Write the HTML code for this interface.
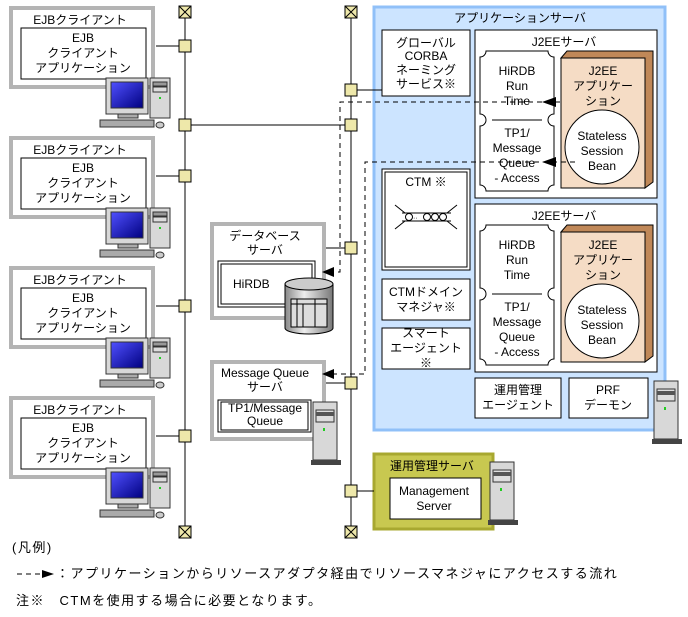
<!DOCTYPE html>
<html><head><meta charset="utf-8"><style>
body{margin:0;background:#fff}
svg{display:block}
text{font-family:"Liberation Sans","Noto Sans CJK JP",sans-serif;font-size:12px;fill:#000}
.m{text-anchor:middle}
.lg{font-size:13px;letter-spacing:1.5px}
</style></head><body>
<svg width="688" height="617" viewBox="0 0 688 617" xmlns="http://www.w3.org/2000/svg">
<defs>
<linearGradient id="scr" x1="0" y1="0" x2="1" y2="1"><stop offset="0" stop-color="#5050ff"/><stop offset="1" stop-color="#000080"/></linearGradient>
<linearGradient id="cyl" x1="0" y1="0" x2="1" y2="0"><stop offset="0" stop-color="#888"/><stop offset="0.4" stop-color="#eee"/><stop offset="1" stop-color="#777"/></linearGradient>
<g id="pc">
<rect x="0" y="0" width="42" height="36" fill="#d8d8d8" stroke="#333"/>
<rect x="5" y="4" width="32" height="26" fill="url(#scr)" stroke="#333"/>
<rect x="12" y="36" width="20" height="4" fill="#aaa" stroke="#333"/>
<rect x="44" y="0" width="20" height="40" fill="#d8d8d8" stroke="#333"/>
<rect x="47" y="4" width="14" height="4" fill="#999" stroke="#333"/>
<rect x="47" y="9" width="14" height="5" fill="#ddd" stroke="#333"/>
<rect x="53" y="19" width="2" height="2" fill="#2c2"/>
<rect x="-6" y="42" width="54" height="7" fill="#aaa" stroke="#333"/>
<ellipse cx="54" cy="47" rx="4" ry="3" fill="#ccc" stroke="#333"/>
</g>
<g id="tw">
<rect x="2" y="0" width="24" height="58" fill="#d8d8d8" stroke="#333"/>
<rect x="5" y="8" width="18" height="12" fill="#ddd" stroke="#333"/>
<rect x="5" y="10" width="18" height="4" fill="#555"/>
<rect x="12" y="26" width="2" height="3" fill="#2c2"/>
<rect x="0" y="58" width="30" height="5" fill="#444"/>
</g>
<g id="term"><rect x="-6" y="-6" width="12" height="12" fill="#eee8aa" stroke="#000"/><path d="M-6 -6L6 6M6 -6L-6 6" stroke="#000"/></g>
<g id="sq"><rect x="-6" y="-6" width="12" height="12" fill="#eee8aa" stroke="#000"/></g>
</defs>

<line x1="185" y1="12" x2="185" y2="532" stroke="#000"/>
<line x1="351" y1="12" x2="351" y2="532" stroke="#000"/>
<use href="#term" x="185" y="12"/><use href="#term" x="185" y="532"/>
<use href="#term" x="351" y="12"/><use href="#term" x="351" y="532"/>

<g id="cl">
<rect x="11" y="8" width="142" height="79" fill="#fff" stroke="#b4b4b4" stroke-width="4"/>
<text class="m" x="80" y="24">EJBクライアント</text>
<rect x="21" y="28" width="125" height="51" fill="#fff" stroke="#000"/>
<text class="m" x="83" y="42">EJB</text>
<text class="m" x="83" y="57">クライアント</text>
<text class="m" x="83" y="72">アプリケーション</text>
<line x1="156" y1="46" x2="185" y2="46" stroke="#000"/>
<use href="#sq" x="185" y="46"/>
<use href="#pc" x="106" y="78"/>
</g>
<use href="#cl" y="130"/><use href="#cl" y="260"/><use href="#cl" y="390"/>

<line x1="185" y1="125" x2="351" y2="125" stroke="#000"/>
<use href="#sq" x="185" y="125"/>

<rect x="374" y="7" width="291" height="423" fill="#cce4ff" stroke="#90c0f8" stroke-width="3"/>
<text class="m" x="520" y="22">アプリケーションサーバ</text>
<line x1="351" y1="90" x2="382" y2="90" stroke="#000"/>
<use href="#sq" x="351" y="90"/><use href="#sq" x="351" y="125"/>

<rect x="382" y="30" width="88" height="66" fill="#fff" stroke="#000"/>
<text class="m" x="426" y="47">グローバル</text>
<text class="m" x="426" y="60">CORBA</text>
<text class="m" x="426" y="74">ネーミング</text>
<text class="m" x="426" y="88">サービス※</text>

<rect x="382" y="169" width="88" height="101" fill="#fff" stroke="#000"/>
<rect x="385" y="172" width="82" height="95" fill="none" stroke="#000"/>
<text class="m" x="426" y="186">CTM ※</text>
<path d="M395 205L405 213M457 205L447 213M395 229L405 221M457 229L447 221M402 213H451M402 221H451" stroke="#000" fill="none"/>
<circle cx="409" cy="217" r="3.5" fill="#fff" stroke="#000"/>
<circle cx="427" cy="217" r="3.5" fill="#fff" stroke="#000"/>
<circle cx="435" cy="217" r="3.5" fill="#fff" stroke="#000"/>
<circle cx="443" cy="217" r="3.5" fill="#fff" stroke="#000"/>
<text x="413" y="220" style="font-size:7px">··</text>

<rect x="382" y="279" width="88" height="41" fill="#fff" stroke="#000"/>
<text class="m" x="426" y="296">CTMドメイン</text>
<text class="m" x="426" y="311">マネジャ※</text>
<rect x="382" y="328" width="88" height="41" fill="#fff" stroke="#000"/>
<text class="m" x="426" y="337">スマート</text>
<text class="m" x="426" y="352">エージェント</text>
<text class="m" x="426" y="367">※</text>

<g id="j2">
<rect x="475" y="30" width="182" height="168" fill="#fff" stroke="#000"/>
<text class="m" x="564" y="46">J2EEサーバ</text>
<path d="M486 51H548A6 6 0 0 0 554 57V114A6 6 0 0 0 554 126V185A6 6 0 0 0 548 191H486A6 6 0 0 0 480 185V126A6 6 0 0 0 480 114V57A6 6 0 0 0 486 51Z" fill="#fff" stroke="#000"/>
<line x1="492" y1="120" x2="542" y2="120" stroke="#000"/>
<text class="m" x="517" y="75">HiRDB</text>
<text class="m" x="517" y="90">Run</text>
<text class="m" x="517" y="105">Time</text>
<text class="m" x="517" y="137">TP1/</text>
<text class="m" x="517" y="152">Message</text>
<text class="m" x="517" y="167">Queue</text>
<text class="m" x="517" y="182">- Access</text>
<path d="M561 58L567 51H653V182L645 188V58Z" fill="#c08858" stroke="#000"/>
<rect x="561" y="58" width="84" height="130" fill="#f5dcc5" stroke="#000"/>
<text class="m" x="603" y="75">J2EE</text>
<text class="m" x="603" y="90">アプリケー</text>
<text class="m" x="603" y="105">ション</text>
<circle cx="602" cy="147" r="37" fill="#fff" stroke="#000"/>
<text class="m" x="602" y="140">Stateless</text>
<text class="m" x="602" y="155">Session</text>
<text class="m" x="602" y="170">Bean</text>
</g>
<use href="#j2" y="174"/>
<rect x="475" y="378" width="86" height="40" fill="#fff" stroke="#000"/>
<text class="m" x="518" y="394">運用管理</text>
<text class="m" x="518" y="409">エージェント</text>
<rect x="569" y="378" width="79" height="40" fill="#fff" stroke="#000"/>
<text class="m" x="608" y="394">PRF</text>
<text class="m" x="608" y="409">デーモン</text>
<use href="#tw" x="652" y="381"/>

<rect x="212" y="224" width="112" height="94" fill="#fff" stroke="#b4b4b4" stroke-width="4"/>
<text class="m" x="265" y="240">データベース</text>
<text class="m" x="265" y="254">サーバ</text>
<line x1="326" y1="248" x2="351" y2="248" stroke="#000"/>
<use href="#sq" x="351" y="248"/>
<rect x="218" y="261" width="97" height="46" fill="#fff" stroke="#000"/>
<rect x="221" y="264" width="91" height="40" fill="none" stroke="#000"/>
<text x="233" y="288">HiRDB</text>
<path d="M285 284V328A24 6 0 0 0 333 328V284" fill="url(#cyl)" stroke="#000"/>
<ellipse cx="309" cy="284" rx="24" ry="6" fill="#ccc" stroke="#000"/>
<rect x="291" y="299" width="36" height="28" fill="#ddd" stroke="#000"/>
<path d="M291 304H327M297 299V327M303 304V327M315 299V327" stroke="#000"/>

<rect x="212" y="362" width="112" height="77" fill="#fff" stroke="#b4b4b4" stroke-width="4"/>
<text class="m" x="265" y="377">Message Queue</text>
<text class="m" x="265" y="391">サーバ</text>
<line x1="326" y1="383" x2="351" y2="383" stroke="#000"/>
<use href="#sq" x="351" y="383"/>
<rect x="218" y="400" width="93" height="32" fill="#fff" stroke="#000"/>
<rect x="221" y="402" width="87" height="28" fill="none" stroke="#000"/>
<text class="m" x="265" y="412">TP1/Message</text>
<text class="m" x="265" y="425">Queue</text>
<use href="#tw" x="311" y="402"/>

<rect x="374" y="454" width="119" height="75" fill="#c8c850" stroke="#a8a830" stroke-width="3"/>
<text x="390" y="470">運用管理サーバ</text>
<rect x="390" y="478" width="91" height="41" fill="#fff" stroke="#000"/>
<text class="m" x="434" y="495">Management</text>
<text class="m" x="434" y="510">Server</text>
<line x1="351" y1="491" x2="374" y2="491" stroke="#000"/>
<use href="#sq" x="351" y="491"/>
<use href="#tw" x="488" y="462"/>

<g stroke="#000" fill="none" stroke-dasharray="5,4">
<path d="M560 102H340V272H330"/>
<path d="M575 162H365V374H330"/>
</g>
<g fill="#000">
<path d="M542 102L556 97V107Z"/><path d="M542 162L556 157V167Z"/>
<path d="M322 272L334 267V277Z"/><path d="M322 374L334 369V379Z"/>
</g>

<text class="lg" x="12" y="552">(凡例)</text>
<path d="M17 574H42" stroke="#000" stroke-dasharray="5,4"/>
<path d="M42 570L54 574L42 578Z" fill="#000"/>
<text class="lg" x="56" y="578">：アプリケーションからリソースアダプタ経由でリソースマネジャにアクセスする流れ</text>
<text class="lg" x="16" y="605">注※　CTMを使用する場合に必要となります。</text>
</svg>
</body></html>
